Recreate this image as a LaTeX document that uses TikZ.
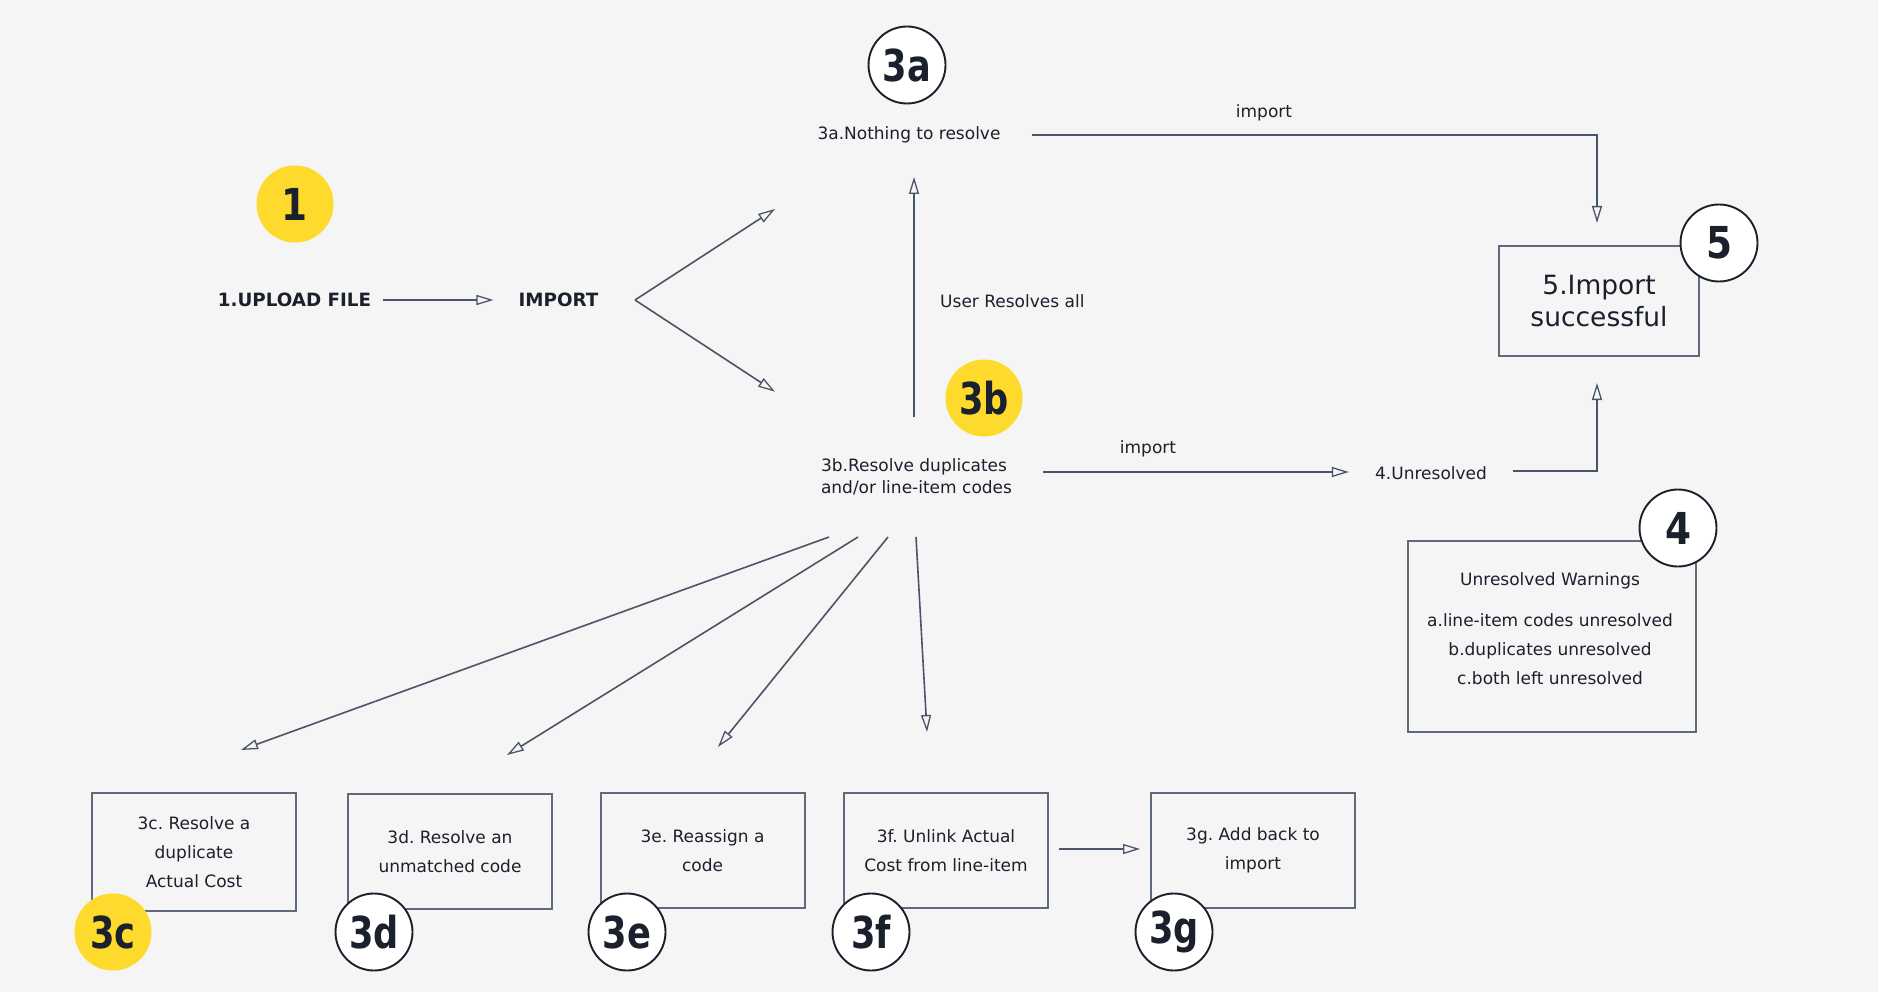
\documentclass[tikz,border=0pt]{standalone}
\usepackage{fontspec}
\setmainfont{DejaVu Sans}
\usetikzlibrary{arrows.meta,calc}
\definecolor{bg}{HTML}{F5F5F5}
\definecolor{lnc}{HTML}{4A5568}
\definecolor{bxc}{HTML}{5F6B7C}
\definecolor{txc}{HTML}{1A202C}
\definecolor{yel}{HTML}{FDDA2B}
\frenchspacing
\begin{document}
\frenchspacing
\begin{tikzpicture}[x=1pt,y=-1pt,
  txt/.style={font=\fontsize{17}{29}\selectfont\frenchspacing, text=txc, inner sep=0pt, align=center},
  badge/.style={circle, minimum size=77pt, inner sep=0pt, text=txc,
    font=\fontsize{44}{44}\selectfont\bfseries},
  ybadge/.style={badge, fill=yel},
  wbadge/.style={badge, fill=white, draw=txc, line width=1.9pt},
  stepbox/.style={draw=bxc, line width=2pt, minimum width=204pt, minimum height=116pt,
    inner sep=0pt, txt},
  arr/.style={draw=lnc, line width=1.6pt, -{Triangle[open, length=17pt, width=10pt, line width=1.3pt]}},
  plain/.style={draw=lnc, line width=1.6pt}
]
\useasboundingbox (0,0) rectangle (1878,992);
\fill[bg] (0,0) rectangle (1878,992);

% top-left
\node[ybadge] (c1) at (295,204) {\scalebox{0.85}[1]{1}};
\node[txt, font=\fontsize{18.3}{22}\selectfont\bfseries] (upload) at (294.5,300) {1.UPLOAD FILE};
\node[txt, font=\fontsize{18.3}{22}\selectfont\bfseries] (import) at (558.5,300) {IMPORT};
\draw[arr] ($(upload.east)+(12,0)$) -- ($(import.west)+(-25,0)$);
\coordinate (fork) at (635,300);
\coordinate (f1) at (775,209);
\coordinate (f2) at (775,391.7);
\draw[arr] (fork) -- (f1);
\draw[arr] (fork) -- (f2);

% 3a
\node[wbadge] (c3a) at (907,65) {\scalebox{0.8}[1]{3a}};
\node[txt] (a3) at (909,135) {3a.Nothing to resolve};

% 3b
\node[txt, font=\fontsize{17}{22}\selectfont, align=left] (b3) at (916.5,477)
  {3b.Resolve duplicates\\and/or line-item codes};
\node[ybadge] (c3b) at (984,398) {\scalebox{0.8}[1]{3b}};
\coordinate (u1) at (914,417);
\coordinate (u2) at (914,177);
\draw[arr] (u1) -- (u2);
\node[txt, anchor=west] (ura) at (940,301) {User Resolves all};

% 5
\node[draw=bxc, line width=2pt, minimum width=200pt, minimum height=110pt, inner sep=0pt,
  text=txc, align=center, font=\fontsize{26.5}{32}\selectfont] (box5) at (1599,301)
  {5.Import\\successful};
\node[wbadge] (c5) at (1719,243) {\scalebox{0.85}[1]{5}};
\coordinate (t5a) at (1597,223);
\coordinate (t5b) at (1597,383);
\draw[arr] ($(a3.east)+(31,0)$) -| (t5a);
\node[txt] (imp1) at (1264,113) {import};

% 4 unresolved
\node[txt] (unres) at (1431,473) {4.Unresolved};
\draw[arr] ($(b3.east)+(31,-5)$) -- ($(unres.west)+(-26,-1)$);
\node[txt] (imp2) at (1148,449) {import};
\draw[arr] ($(unres.east)+(26,-2)$) -| (t5b);

% box 4
\node[draw=bxc, line width=2pt, minimum width=288pt, minimum height=191pt, inner sep=0pt] (box4) at (1552,636.5) {};
\node[txt] (w4) at (1550,628.5) {Unresolved Warnings\\[12pt]a.line-item codes unresolved\\b.duplicates unresolved\\c.both left unresolved};
\node[wbadge] (c4) at (1678,528) {\scalebox{0.85}[1]{4}};

% bottom boxes
\node[stepbox, minimum height=118pt] (s3c) at (194,852) {3c. Resolve a\\duplicate\\Actual Cost};
\node[stepbox, minimum height=115pt] (s3d) at (450,851.5) {3d. Resolve an\\unmatched code};
\node[stepbox, minimum height=115pt] (s3e) at (702.5,850.5) {3e. Reassign a\\code};
\node[stepbox, minimum height=115pt] (s3f) at (946,850.5) {3f. Unlink Actual\\Cost from line-item};
\node[stepbox, minimum height=115pt] (s3g) at (1253,850.5) {3g. Add back to\\import};

\node[ybadge] (c3c) at (113,932) {\scalebox{0.8}[1]{3c}};
\node[wbadge] (c3d) at (374,932) {\scalebox{0.8}[1]{3d}};
\node[wbadge] (c3e) at (627,932) {\scalebox{0.8}[1]{3e}};
\node[wbadge] (c3f) at (871,932) {\scalebox{0.8}[1]{3f}};
\node[wbadge] (c3g) at (1174,932) {\scalebox{0.8}[1]{3g}};

% fan arrows
\coordinate (o1) at (829,537);
\coordinate (o2) at (858,537);
\coordinate (o3) at (888,537);
\coordinate (o4) at (916,537);
\coordinate (e1) at (241,750);
\coordinate (e2) at (507,755);
\coordinate (e3) at (718,747);
\coordinate (e4) at (927,732);
\draw[arr] (o1) -- (e1);
\draw[arr] (o2) -- (e2);
\draw[arr] (o3) -- (e3);
\draw[arr] (o4) -- (e4);

\draw[arr] ($(s3f.east)+(10,-1.5)$) -- ($(s3g.west)+(-10,-1.5)$);
\end{tikzpicture}
\end{document}
